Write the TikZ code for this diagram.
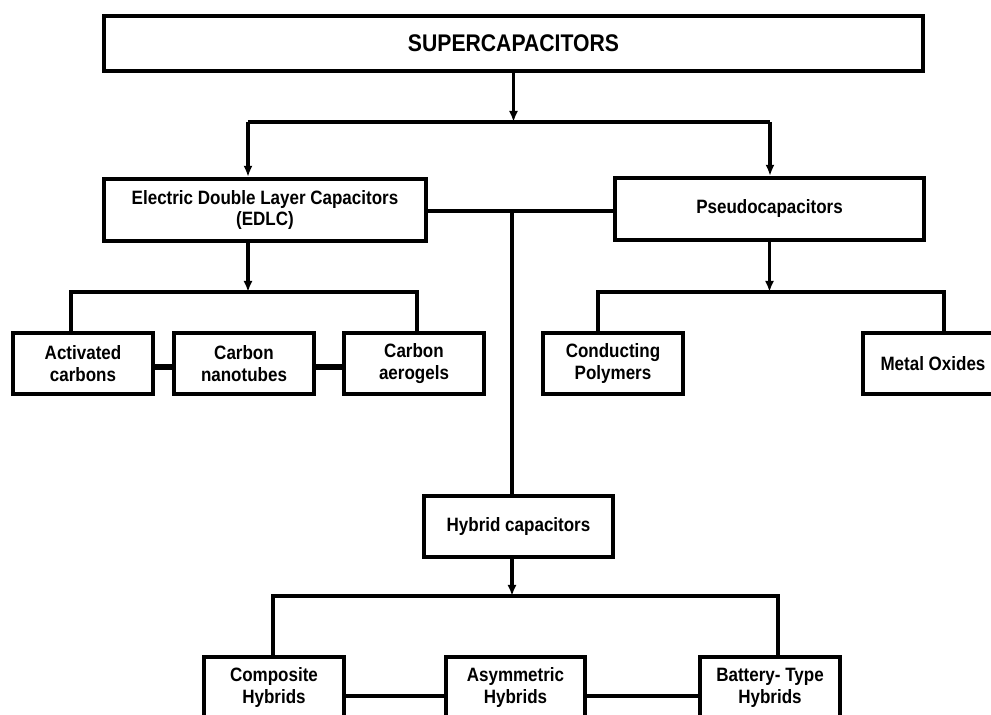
\documentclass[tikz,border=0pt]{standalone}
\usepackage{fontspec}
\setmainfont{Liberation Sans}[FakeStretch=0.88]
\usetikzlibrary{arrows.meta}
\begin{document}
\begin{tikzpicture}[x=0.02cm,y=-0.02cm,
  capbox/.style={draw,line width=2.4pt,minimum width=2.8cm,minimum height=1.22cm,
    inner sep=0pt,align=center,font=\fontsize{11}{12.5}\selectfont\bfseries},
  wire/.style={line width=1.8pt},
  arr/.style={wire,-{Latex[length=2.2mm,width=1.8mm]}},
  fatwire/.style={line width=3.4pt}]
\useasboundingbox (0,0) rectangle (991,715);
\clip (0,0) rectangle (991,715);
% top level
\node[capbox,minimum width=16.38cm,minimum height=1.1cm,
  font=\fontsize{13.7}{15}\selectfont\bfseries] (sc) at (513.5,43.5) {SUPERCAPACITORS};
\node[capbox,minimum width=6.44cm,minimum height=1.24cm] (edlc) at (265,210) {Electric Double Layer Capacitors\\(EDLC)};
\node[capbox,minimum width=6.18cm,minimum height=1.24cm] (pseudo) at (769.5,209) {Pseudocapacitors};
\node[capbox,minimum width=3.78cm] (hyb) at (518.5,526.5) {Hybrid capacitors};
% EDLC row
\node[capbox] (act) at (83,363.5) {Activated\\carbons};
\node[capbox] (nano) at (244,363.5) {Carbon\\nanotubes};
\node[capbox] (aero) at (414,363.5) {Carbon\\aerogels};
% pseudo row
\node[capbox] (cond) at (613,363.5) {Conducting\\Polymers};
\node[capbox] (metal) at (933,363.5) {Metal Oxides};
% hybrid row
\node[capbox] (comp) at (274,687.5) {Composite\\Hybrids};
\node[capbox,minimum width=2.78cm] (asym) at (515.5,687.5) {Asymmetric\\Hybrids};
\node[capbox] (batt) at (770,687.5) {Battery- Type\\Hybrids};
% joints
\coordinate (tl) at (248,122);
\coordinate (tr) at (770,122);
\coordinate (mj) at (512,211);
\coordinate (eb) at (248,292);
\coordinate (el) at (71,292);
\coordinate (er) at (417,292);
\coordinate (pl) at (598,292);
\coordinate (pr) at (944,292);
\coordinate (hb) at (512,596);
\coordinate (hl) at (273,596);
\coordinate (hr) at (778,596);
% connectors
\draw[arr] (sc.south) -- (sc.south |- tl);
\draw[wire] (tl) -- (tr);
\draw[arr] (tl) -- (tl |- edlc.north);
\draw[arr] (tr) -- (tr |- pseudo.north);
\draw[wire] (edlc.east |- mj) -- (pseudo.west |- mj);
\draw[wire] (mj) -- (mj |- hyb.north);
\draw[arr] (eb |- edlc.south) -- (eb);
\draw[wire] (el |- act.north) -- (el) -- (er) -- (er |- aero.north);
\draw[fatwire] ([yshift=-0.07cm]act.east) -- ([yshift=-0.07cm]nano.west);
\draw[fatwire] ([yshift=-0.07cm]nano.east) -- ([yshift=-0.07cm]aero.west);
\draw[arr] (pseudo.south) -- (pseudo.south |- pl);
\draw[wire] (pl |- cond.north) -- (pl) -- (pr) -- (pr |- metal.north);
\draw[arr] (hb |- hyb.south) -- (hb);
\draw[wire] (hl |- comp.north) -- (hl) -- (hr) -- (hr |- batt.north);
\draw[wire] ([yshift=-0.17cm]comp.east) -- ([yshift=-0.17cm]asym.west);
\draw[wire] ([yshift=-0.17cm]asym.east) -- ([yshift=-0.17cm]batt.west);
\end{tikzpicture}
\end{document}
